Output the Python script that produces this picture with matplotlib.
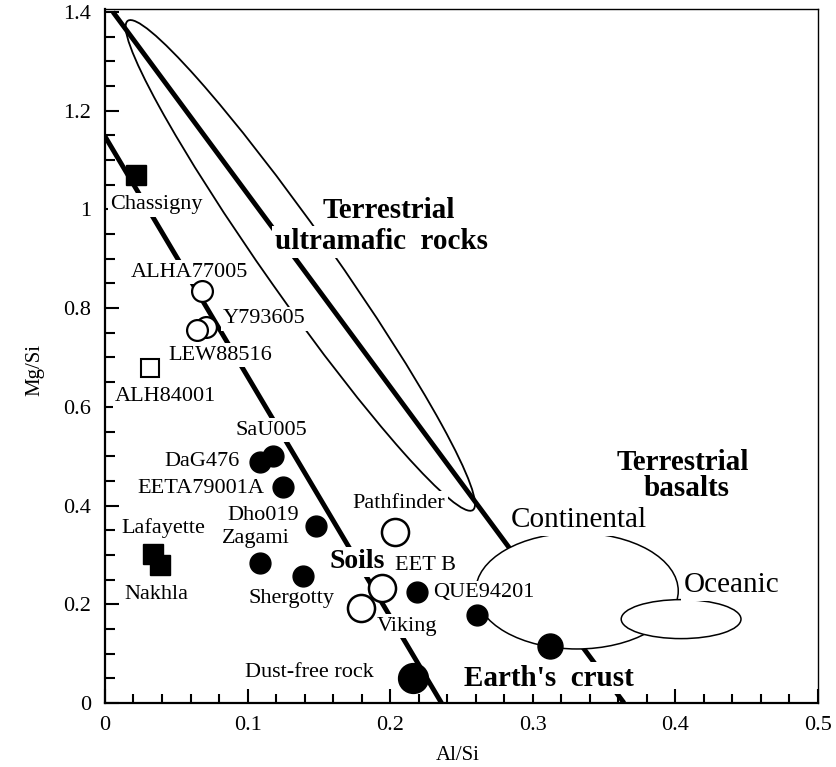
import numpy as np
import matplotlib
matplotlib.use("Agg")
import matplotlib.pyplot as plt
from matplotlib.patches import Ellipse
from matplotlib.transforms import Affine2D
from matplotlib.ticker import MultipleLocator, FuncFormatter

plt.rcParams['font.family'] = 'serif'
plt.rcParams['font.serif'] = ['Liberation Serif', 'DejaVu Serif']

# meteorites / samples (Al/Si, Mg/Si)
filled_names = ["SaU005", "DaG476", "EETA79001A", "Dho019", "Zagami", "Shergotty", "QUE94201"]
filled_x = [0.118, 0.109, 0.125, 0.148, 0.109, 0.139, 0.219]
filled_y = [0.500, 0.488, 0.438, 0.359, 0.284, 0.257, 0.225]

open_names = ["ALHA77005", "Y793605", "LEW88516"]
open_x = [0.068, 0.071, 0.0645]
open_y = [0.835, 0.762, 0.756]

soil_names = ["Pathfinder", "EET B", "Viking"]
soil_x = [0.2034, 0.1943, 0.1795]
soil_y = [0.346, 0.233, 0.1925]

square_names = ["Chassigny", "Lafayette", "Nakhla"]
square_x = [0.0217, 0.0337, 0.0386]
square_y = [1.070, 0.302, 0.280]

alh_x, alh_y = 0.0316, 0.679

dust_x, dust_y = 0.216, 0.051
crust_x = [0.261, 0.312]
crust_y = [0.178, 0.1155]

# mixing lines
line1_x = [0.0056, 0.364]
line1_y = [1.40, 0.0]
line2_x = [0.0, 0.236]
line2_y = [1.148, 0.0]

# ultramafic field (tips of the long ellipse, width in Al/Si units)
um_tip1 = (0.016, 1.382)
um_tip2 = (0.258, 0.391)
um_width = 0.047

# basalt fields (centre x, centre y, width, height)
cont = (0.331, 0.227, 0.142, 0.235)
ocean = (0.404, 0.170, 0.084, 0.079)

fig = plt.figure(figsize=(8.37, 7.67), dpi=100)
L, R, B, T = 0.1254, 0.9773, 0.0834, 0.9883
fig.subplots_adjust(left=L, right=R, bottom=B, top=T)
ax = fig.add_subplot(111)
xmax, ymax = 0.5, 1.406
ax.set_xlim(0, xmax)
ax.set_ylim(0, ymax)

# ratio of pixel scales so the slanted ellipse is a true ellipse on screen
r = ((T - B) * 7.67 / ymax) / ((R - L) * 8.37 / xmax)
cx = (um_tip1[0] + um_tip2[0]) / 2
cy = (um_tip1[1] + um_tip2[1]) / 2 * r
dx = um_tip2[0] - um_tip1[0]
dy = (um_tip2[1] - um_tip1[1]) * r
um = Ellipse((cx, cy), np.hypot(dx, dy), um_width, angle=np.degrees(np.arctan2(dy, dx)),
             fill=False, ec='black', lw=1.3, zorder=1,
             transform=Affine2D().scale(1, 1 / r) + ax.transData)
ax.add_patch(um)

ax.plot(line1_x, line1_y, color='black', lw=3.5, zorder=1, solid_capstyle='butt')
ax.plot(line2_x, line2_y, color='black', lw=3.5, zorder=1, solid_capstyle='butt')

ax.add_patch(Ellipse(cont[:2], cont[2], cont[3], fc='white', ec='black', lw=1.1, zorder=2))
ax.add_patch(Ellipse(ocean[:2], ocean[2], ocean[3], fc='white', ec='black', lw=1.1, zorder=2.1))

# markers
ax.plot(filled_x, filled_y, 'o', color='black', ms=15, zorder=4)
ax.plot(open_x, open_y, 'o', mfc='white', mec='black', mew=1.6, ms=15, zorder=4)
ax.plot(soil_x, soil_y, 'o', mfc='white', mec='black', mew=1.8, ms=19.5, zorder=4)
ax.plot(square_x, square_y, 's', color='black', ms=15, zorder=4)
ax.plot(alh_x, alh_y, 's', mfc='white', mec='black', mew=1.5, ms=12.5, zorder=4)
ax.plot(dust_x, dust_y, 'o', color='black', ms=21.5, zorder=4)
ax.plot(crust_x[0], crust_y[0], 'o', color='black', ms=15, zorder=4)
ax.plot(crust_x[1], crust_y[1], 'o', color='black', ms=18, zorder=4)

box = dict(boxstyle='square,pad=0.1', fc='white', ec='none')


def label(x, y, s, ha='left', size=16, weight='normal'):
    ax.text(x, y, s, ha=ha, va='center', fontsize=size, fontweight=weight, bbox=box, zorder=3)


label(0.0035, 1.009, "Chassigny")
label(0.0596, 0.873, "ALHA77005", ha='center')
label(0.0827, 0.778, "Y793605")
label(0.0442, 0.705, "LEW88516")
label(0.0070, 0.620, "ALH84001")
label(0.0912, 0.553, "SaU005")
label(0.0947, 0.490, "DaG476", ha='right')
label(0.1115, 0.4356, "EETA79001A", ha='right')
label(0.0855, 0.379, "Dho019")
label(0.0820, 0.334, "Zagami")
label(0.0112, 0.3545, "Lafayette")
label(0.0133, 0.219, "Nakhla")
label(0.1010, 0.211, "Shergotty")
label(0.0980, 0.061, "Dust-free rock")
label(0.2062, 0.405, "Pathfinder", ha='center')
label(0.2034, 0.2796, "EET B")
label(0.2118, 0.156, "Viking", ha='center')
label(0.2300, 0.2229, "QUE94201")
label(0.1767, 0.2857, "Soils", ha='center', size=20, weight='bold')
label(0.1992, 0.9968, "Terrestrial", ha='center', size=21, weight='bold')
label(0.1942, 0.934, "ultramafic  rocks", ha='center', size=21, weight='bold')
label(0.405, 0.488, "Terrestrial", ha='center', size=21, weight='bold')
label(0.4078, 0.4356, "basalts", ha='center', size=21, weight='bold')
label(0.3324, 0.3707, "Continental", ha='center', size=21)
label(0.4393, 0.239, "Oceanic", ha='center', size=21)
label(0.3114, 0.0506, "Earth's  crust", ha='center', size=21, weight='bold')

# axes styling
ax.xaxis.set_major_locator(MultipleLocator(0.1))
ax.xaxis.set_minor_locator(MultipleLocator(0.02))
ax.yaxis.set_major_locator(MultipleLocator(0.2))
ax.yaxis.set_minor_locator(MultipleLocator(0.05))
fmt = FuncFormatter(lambda v, p: "%g" % round(v, 3))
ax.xaxis.set_major_formatter(fmt)
ax.yaxis.set_major_formatter(fmt)
ax.tick_params(which='both', direction='in', top=False, right=False, width=1.5, labelsize=16)
ax.tick_params(axis='y', which='major', length=10, pad=10)
ax.tick_params(axis='y', which='minor', length=7)
ax.tick_params(axis='x', which='major', length=10, pad=9)
ax.tick_params(axis='x', which='minor', length=6.5)
ax.spines['left'].set_linewidth(1.6)
ax.spines['bottom'].set_linewidth(1.6)
ax.spines['top'].set_linewidth(1.0)
ax.spines['right'].set_linewidth(1.0)

ax.set_xlabel("Al/Si", fontsize=15)
ax.set_ylabel("Mg/Si", fontsize=15)
ax.xaxis.set_label_coords(0.495, -0.062)
ax.yaxis.set_label_coords(-0.085, 0.48)

plt.savefig("out.png", dpi=100)
plt.close()
